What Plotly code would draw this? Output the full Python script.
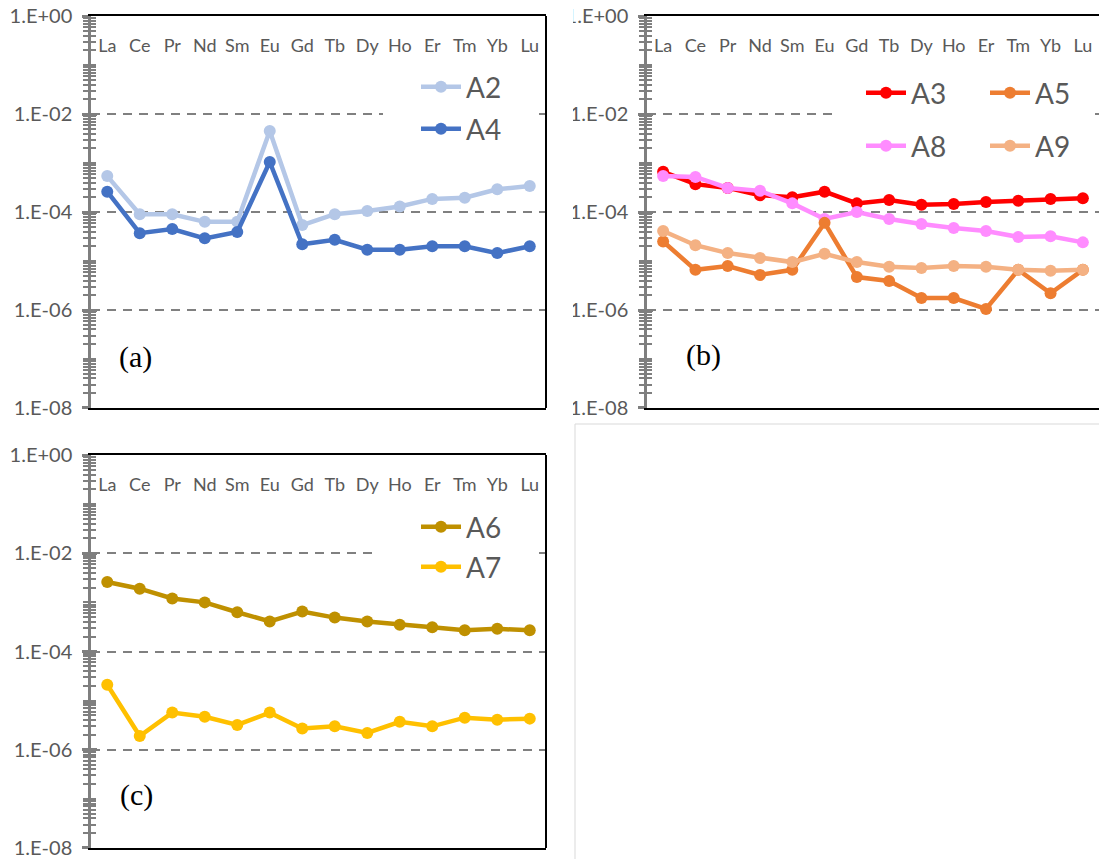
import plotly.graph_objects as go

# Chondrite-normalised REE patterns for three sample groups
elements = ["La", "Ce", "Pr", "Nd", "Sm", "Eu", "Gd", "Tb", "Dy", "Ho", "Er", "Tm", "Yb", "Lu"]

# (a)
a2 = [5.4e-4, 9.0e-5, 9.0e-5, 6.3e-5, 6.3e-5, 4.5e-3, 5.4e-5, 9.0e-5, 1.05e-4, 1.3e-4, 1.85e-4, 1.95e-4, 2.9e-4, 3.4e-4]
a4 = [2.6e-4, 3.7e-5, 4.5e-5, 2.9e-5, 3.9e-5, 1.05e-3, 2.2e-5, 2.7e-5, 1.7e-5, 1.7e-5, 2.0e-5, 2.0e-5, 1.45e-5, 2.0e-5]

# (b)
a3 = [6.6e-4, 3.7e-4, 3.1e-4, 2.2e-4, 2.0e-4, 2.6e-4, 1.5e-4, 1.75e-4, 1.4e-4, 1.45e-4, 1.6e-4, 1.7e-4, 1.85e-4, 1.9e-4]
a5 = [2.5e-5, 6.6e-6, 7.9e-6, 5.2e-6, 6.6e-6, 6.0e-5, 4.7e-6, 3.9e-6, 1.75e-6, 1.75e-6, 1.05e-6, 6.6e-6, 2.2e-6, 6.6e-6]
a8 = [5.4e-4, 5.2e-4, 3.1e-4, 2.7e-4, 1.5e-4, 7.2e-5, 1.0e-4, 7.2e-5, 5.7e-5, 4.7e-5, 4.1e-5, 3.1e-5, 3.2e-5, 2.4e-5]
a9 = [4.1e-5, 2.1e-5, 1.45e-5, 1.15e-5, 9.5e-6, 1.4e-5, 9.5e-6, 7.6e-6, 7.2e-6, 7.9e-6, 7.6e-6, 6.6e-6, 6.3e-6, 6.6e-6]

# (c)
a6 = [2.6e-3, 1.9e-3, 1.2e-3, 1.0e-3, 6.3e-4, 4.1e-4, 6.5e-4, 4.9e-4, 4.1e-4, 3.5e-4, 3.1e-4, 2.7e-4, 2.9e-4, 2.7e-4]
a7 = [2.1e-5, 1.9e-6, 5.7e-6, 4.7e-6, 3.2e-6, 5.7e-6, 2.7e-6, 3.0e-6, 2.2e-6, 3.7e-6, 3.0e-6, 4.5e-6, 4.1e-6, 4.3e-6]

y_tick_vals = [1, 1e-2, 1e-4, 1e-6, 1e-8]
y_tick_text = ["1.E+00", "1.E-02", "1.E-04", "1.E-06", "1.E-08"]
minor_vals = [k * 10.0 ** e for e in range(-8, 0) for k in range(1, 10)
              if not (k == 1 and e % 2 == 0)]

W, H = 1099, 859
GREY = "#7F7F7F"
TXT = "#595959"
FONT = "Lato"


def fx(px):
    return px / W


def fy(px):
    return 1 - px / H


fig = go.Figure()

# name, values, colour, subplot, legend id, legend left (px), legend row centre (px)
series = [
    ("A2", a2, "#B4C7E7", 1, "legend", 416, 87),
    ("A4", a4, "#4472C4", 1, "legend2", 416, 129),
    ("A3", a3, "#FF0000", 2, "legend3", 861, 93),
    ("A8", a8, "#FF8CFF", 2, "legend4", 861, 146),
    ("A5", a5, "#ED7D31", 2, "legend5", 985, 93),
    ("A9", a9, "#F4B183", 2, "legend6", 985, 146),
    ("A6", a6, "#BF9000", 3, "legend7", 416, 527),
    ("A7", a7, "#FFC000", 3, "legend8", 416, 567),
]
legends = {}
for name, vals, col, sp, lg, lx, ly in series:
    sfx = "" if sp == 1 else str(sp)
    fig.add_trace(go.Scatter(
        x=elements, y=vals, name=name, mode="lines+markers",
        line=dict(color=col, width=4.5),
        marker=dict(color=col, size=12),
        xaxis="x" + sfx, yaxis="y" + sfx,
        legend=lg, showlegend=True,
    ))
    legends[lg] = dict(
        x=fx(lx), y=fy(ly), xanchor="left", yanchor="middle",
        bgcolor="white", borderwidth=0, itemwidth=40,
        font=dict(family=FONT, size=28, color=TXT),
    )

# empty traces that bring the helper axes (inner tick copies, element-name rows) to life
helper_pairs = [("x", "y4"), ("x2", "y5"), ("x3", "y6"),
                ("x4", "y"), ("x5", "y2"), ("x6", "y3")]
for xa, ya in helper_pairs:
    fig.add_trace(go.Scatter(x=[], y=[], xaxis=xa, yaxis=ya, mode="markers",
                             showlegend=False, hoverinfo="skip"))

domains = {
    1: ([fx(91), fx(546)], [fy(408), fy(16)]),
    2: ([fx(647), fx(1099)], [fy(408), fy(16)]),
    3: ([fx(91), fx(546)], [fy(848), fy(455)]),
}
# vertical position (px) of the element-name row just under each top frame
label_row = {1: 33, 2: 33, 3: 472}


def xaxis(dom, anchor):
    return dict(
        type="category", categoryorder="array", categoryarray=elements,
        range=[-0.5, 13.5], domain=dom, anchor=anchor, automargin=False,
        side="bottom", showticklabels=False, ticks="",
        showline=True, linecolor="black", linewidth=2, mirror=True,
        showgrid=False, zeroline=False,
    )


def label_axis(overlay, row_px):
    # element names printed inside the frame, just below its top edge
    return dict(
        type="linear", range=[-0.5, 13.5], overlaying=overlay,
        anchor="free", position=fy(row_px), side="bottom",
        tickmode="array", tickvals=list(range(len(elements))), ticktext=elements,
        ticks="", showline=False, showgrid=False, zeroline=False,
        automargin=False, ticklabelstandoff=0,
        tickfont=dict(family=FONT, size=18, color=TXT),
    )


def yaxis(dom, anchor, overlay=None):
    d = dict(
        type="log", range=[-8.0002, 0.0002], domain=dom, anchor=anchor,
        automargin=False,
        tickmode="array", tickvals=y_tick_vals, ticktext=y_tick_text,
        ticks="outside", ticklen=6, tickwidth=2.5, tickcolor=GREY,
        ticklabelstandoff=6,
        minor=dict(tickmode="array", tickvals=minor_vals, ticks="outside",
                   ticklen=5, tickwidth=1.5, tickcolor=GREY, showgrid=False),
        zeroline=False,
        tickfont=dict(family=FONT, size=20, color=TXT),
    )
    if overlay is None:
        d.update(showgrid=True, gridcolor="#808080", gridwidth=1.6,
                 griddash="9px,7px", showline=True, linecolor=GREY, linewidth=2.5)
    else:
        # second copy of the axis drawing the ticks on the inner side
        d.update(overlaying=overlay, ticks="inside", showticklabels=False,
                 showgrid=False, showline=False)
        d["minor"]["ticks"] = "inside"
        d.pop("domain")
    return d


layout = dict(
    width=W, height=H, margin=dict(l=0, r=0, t=0, b=0, autoexpand=False),
    plot_bgcolor="white", paper_bgcolor="white", showlegend=True,
    font=dict(family=FONT, color=TXT),
    xaxis=xaxis(domains[1][0], "y"),
    yaxis=yaxis(domains[1][1], "x"),
    xaxis2=xaxis(domains[2][0], "y2"),
    yaxis2=yaxis(domains[2][1], "x2"),
    xaxis3=xaxis(domains[3][0], "y3"),
    yaxis3=yaxis(domains[3][1], "x3"),
    yaxis4=yaxis(domains[1][1], "x", overlay="y"),
    yaxis5=yaxis(domains[2][1], "x2", overlay="y2"),
    yaxis6=yaxis(domains[3][1], "x3", overlay="y3"),
    xaxis4=label_axis("x", label_row[1]),
    xaxis5=label_axis("x2", label_row[2]),
    xaxis6=label_axis("x3", label_row[3]),
)
layout.update(legends)
fig.update_layout(**layout)

# right-hand frame edges of panels (a) and (c)
for xr, yr in (("x", "y"), ("x3", "y3")):
    fig.add_shape(type="line", xref=xr + " domain", yref=yr + " domain",
                  x0=1, x1=1, y0=0, y1=1, line=dict(color="black", width=2))

# the legend areas interrupt the 1.E-02 grid line (left, right, grid row in px)
legend_gaps = [(383, 538, 114), (835, 1093, 113), (375, 536, 553)]
for l, r, row in legend_gaps:
    fig.add_shape(type="rect", xref="paper", yref="paper", layer="above",
                  x0=fx(l), x1=fx(r), y0=fy(row + 4), y1=fy(row - 4),
                  line=dict(width=0), fillcolor="white")

# panel letters
for label, xr, yr, xpos, ypos in (("(a)", "x", "y", 0.097, 0.13),
                                  ("(b)", "x2", "y2", 0.124, 0.135),
                                  ("(c)", "x3", "y3", 0.101, 0.135)):
    fig.add_annotation(text=label, xref=xr + " domain", yref=yr + " domain",
                       x=xpos, y=ypos, xanchor="center", yanchor="middle",
                       showarrow=False,
                       font=dict(family="Liberation Serif", size=30, color="black"))

# panel (b) is cropped on its left side
fig.add_shape(type="rect", xref="paper", yref="paper", layer="above",
              x0=fx(552), x1=fx(573), y0=fy(424), y1=1,
              line=dict(width=0), fillcolor="white")

# thin separators around the empty lower-right area
fig.add_shape(type="line", xref="paper", yref="paper", x0=fx(575), x1=1,
              y0=fy(424), y1=fy(424), line=dict(color="#D9D9D9", width=1))
fig.add_shape(type="line", xref="paper", yref="paper", x0=fx(575), x1=fx(575),
              y0=0, y1=fy(424), line=dict(color="#D9D9D9", width=1))

fig.write_html("out.html")
